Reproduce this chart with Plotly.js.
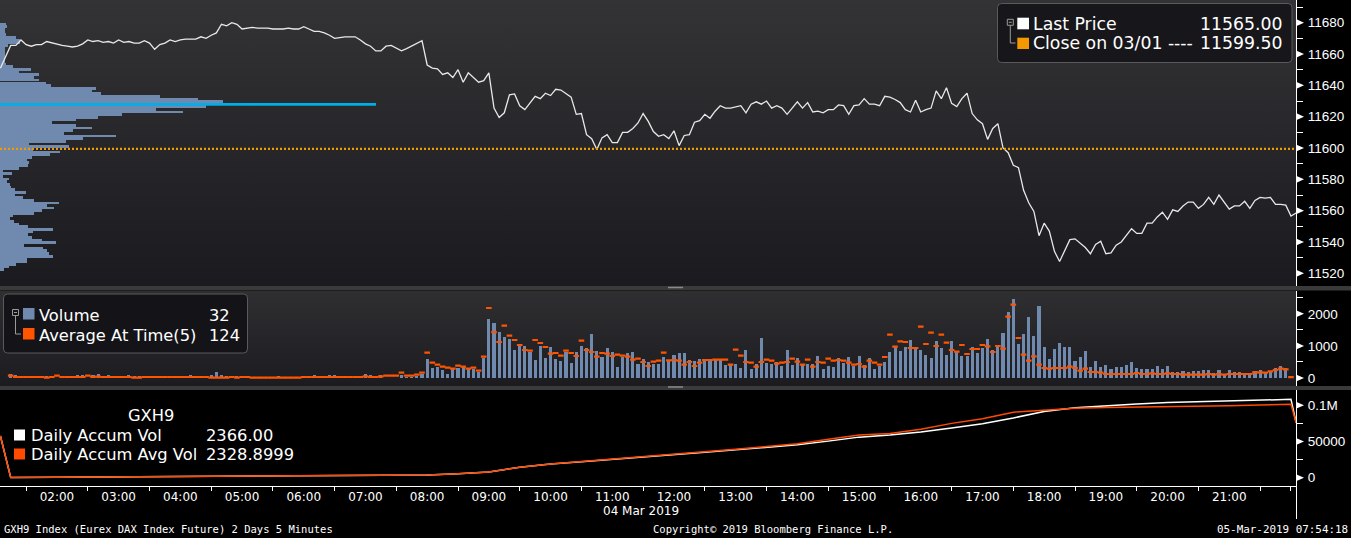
<!DOCTYPE html>
<html>
<head>
<meta charset="utf-8">
<script src="https://cdn.plot.ly/plotly-3.0.1.min.js"></script>
<style>
html,body{margin:0;padding:0;background:#000;overflow:hidden;}
#chart{width:1351px;height:538px;background:
linear-gradient(#333336,#1b1b1f) 0 0/1296px 286px no-repeat,
linear-gradient(#3a3a3a,#3a3a3a) 0 286px/1351px 4.5px no-repeat,
linear-gradient(#2f2f32,#1c1c20) 0 290.5px/1296px 95px no-repeat,
linear-gradient(#3a3a3a,#3a3a3a) 0 385.5px/1351px 4px no-repeat,
#000;}
</style>
</head>
<body>
<div id="chart"></div>
<script>
// ---------------- DATA ----------------
const hourLabels = ['02:00','03:00','04:00','05:00','06:00','07:00','08:00','09:00','10:00','11:00',
  '12:00','13:00','14:00','15:00','16:00','17:00','18:00','19:00','20:00','21:00'];
const halfHourTicks = ['01:30','02:30','03:30','04:30','05:30','06:30','07:30','08:30','09:30','10:30',
  '11:30','12:30','13:30','14:30','15:30','16:30','17:30','18:30','19:30','20:30','21:30','22:00'];
const axisStart = '01:04.6', axisEnd = '22:04.9';
const firstBarTime = '01:15';
const barMinutes = 5;

const priceOpenTime = '01:05';
const priceOpen = 11651;
const prices = [
 11665.5,11665.5,11669,11666,11665,11666,11666,11668,11667,11666,
 11665.5,11665,11664.5,11665,11666.5,11669,11668,11668.5,11667.5,11668,
 11667,11669,11667.5,11668,11667,11667,11668.5,11667,11663,11666,
 11667,11669,11668,11669,11669.5,11669.5,11669.5,11671,11670,11672,
 11673.5,11679,11678,11680,11679,11676,11676.5,11677,11676.5,11676.5,
 11676.5,11676,11676,11676,11676.5,11676,11676,11677.5,11676,11674.5,
 11674.5,11673.5,11672,11670,11670.5,11671,11671,11671,11669,11666.5,
 11665,11662,11662,11665,11665.5,11664,11662,11663.5,11665,11666.5,
 11668.5,11653,11651,11650.5,11647,11648,11645,11650,11642,11648,
 11645,11642,11643,11648,11625.5,11619.5,11622.5,11634,11634.5,11627,
 11624.5,11629,11633,11631.5,11635,11633.5,11637.5,11637,11635,11632.5,
 11621.5,11622,11608.5,11606,11599,11606.5,11608.5,11603.5,11603.5,11610,
 11610,11612.5,11616,11622,11617,11610.5,11607.5,11608.5,11606,11611,
 11601.5,11608,11608.5,11616.5,11617.5,11621.5,11619,11623.5,11627,11625.5,
 11625.5,11626.5,11627,11622.5,11628,11629.5,11628,11630,11625.5,11627,
 11625.5,11621.5,11625.5,11629.5,11625.5,11629,11623,11623.5,11622.5,11624.5,
 11624.5,11627.5,11627,11621.5,11627,11627.5,11631.5,11628,11628,11627,
 11633,11632.5,11631,11629,11624.5,11623,11630.5,11623,11624.5,11625.5,
 11636.5,11631.5,11638.5,11628.5,11626.5,11631.5,11635,11622,11618,11615.5,
 11605.5,11612.5,11615.5,11600,11597,11589,11587.5,11573,11565,11559.5,
 11544,11552,11547,11534,11527.5,11535,11541.5,11542,11539,11536.5,
 11532.5,11538.5,11540.5,11532.5,11533,11538,11540,11544.5,11548.5,11545.5,
 11545.5,11552,11552,11556,11559,11554.5,11560.5,11559.5,11563,11565.5,
 11565.5,11561.5,11564,11568.5,11564,11570,11565.5,11561,11563,11563,
 11566,11561.5,11566.5,11568.5,11568,11568.5,11564,11564,11563.5,11556.5,
 11558.5];

const volume = [
 125,93,10,10,10,10,10,62,10,10,
 10,10,10,93,93,15,93,125,10,93,
 10,10,10,93,62,62,10,10,10,10,
 10,10,10,10,10,93,10,10,10,93,
 187,93,62,10,62,62,62,10,10,10,
 10,10,62,10,10,10,10,10,10,93,
 10,10,93,93,10,10,10,10,10,125,
 93,10,93,10,10,10,83,20,20,73,
 125,592,311,343,249,125,280,311,343,280,
 280,197,623,1837,1713,1432,1277,1214,872,1059,
 996,810,561,996,623,965,592,529,810,467,
 810,996,934,1370,841,654,934,810,343,654,
 779,810,436,592,498,436,436,654,529,716,
 779,779,561,529,592,592,592,592,592,405,
 436,436,311,872,280,436,1246,467,436,498,
 374,872,405,623,436,436,436,685,280,374,
 343,623,467,654,374,685,405,623,280,374,
 498,810,986,851,955,1183,903,872,716,623,
 1152,934,716,1152,810,685,685,965,779,934,
 1214,872,996,1401,2055,2460,1059,1370,1900,1308,
 2242,965,592,903,1090,965,965,529,654,841,
 343,529,343,405,280,343,343,405,498,311,
 280,280,280,374,280,374,197,187,218,187,
 218,218,249,249,156,249,125,249,187,187,
 125,156,218,249,187,228,311,374,311,32];

const avgAtTime = [
 73,31,31,31,31,31,31,10,31,73,
 31,31,31,31,31,73,31,42,31,31,
 31,31,31,31,10,10,31,31,31,31,
 31,31,31,31,31,31,31,31,31,10,
 10,10,10,31,10,31,31,10,10,10,
 10,10,10,10,10,10,10,31,31,31,
 31,31,31,31,31,31,31,31,31,52,
 31,31,52,73,73,73,166,73,73,104,
 166,789,477,415,353,322,291,384,353,291,
 322,228,664,2180,1432,1121,1630,1318,1183,1028,
 872,851,1183,1090,965,758,779,695,851,779,
 685,1163,872,810,664,779,758,685,727,695,
 664,571,602,498,374,509,540,789,550,561,
 540,415,498,374,477,561,561,571,571,571,
 415,882,695,498,477,353,498,571,540,446,
 477,498,602,509,415,571,353,498,477,602,
 540,561,540,477,415,436,353,540,477,415,
 654,1349,976,1142,1121,934,934,1599,1059,1412,
 996,1349,1100,872,820,1028,747,903,903,1028,
 986,810,996,913,1910,2284,1246,727,540,675,
 415,311,291,311,311,311,353,311,228,291,
 187,187,166,125,125,125,125,125,125,156,
 125,125,145,125,125,145,125,125,104,104,
 104,104,104,125,104,125,104,125,125,125,
 125,125,176,176,166,208,249,291,270,30];

// volume at price profile
const profileLevels = [
 11679.1,11677.4,11675.7,11674.0,11672.3,11670.6,11668.9,11667.2,11665.5,11663.8,
 11662.1,11660.4,11658.7,11657.0,11655.3,11653.6,11651.9,11650.2,11648.5,11646.8,
 11645.1,11643.4,11641.6,11639.9,11638.2,11636.5,11634.8,11633.1,11631.4,11629.7,
 11628.0,11626.3,11624.6,11622.9,11621.2,11619.5,11617.8,11616.1,11614.4,11612.7,
 11611.0,11609.3,11607.6,11605.9,11604.2,11602.5,11600.8,11599.1,11597.4,11595.7,
 11594.0,11592.3,11590.6,11588.9,11587.1,11585.4,11583.7,11582.0,11580.3,11578.6,
 11576.9,11575.2,11573.5,11571.8,11570.1,11568.4,11566.7,11565.0,11563.3,11561.6,
 11559.9,11558.2,11556.5,11554.8,11553.1,11551.4,11549.7,11548.0,11546.3,11544.6,
 11542.9,11541.2,11539.5,11537.8,11536.1,11534.4,11532.6,11530.9,11529.2,11527.5,
 11525.8,11524.1,11522.4];
const profileVolume = [
 150,175,125,125,150,400,500,500,200,125,
 125,125,125,125,125,150,325,775,475,975,
 850,975,1150,1275,2400,2300,2525,4000,4950,5575,
 5875,5150,3900,4575,3050,2450,1900,1300,1900,2300,
 1825,1600,2900,2075,1650,725,1725,825,1500,1250,
 800,675,725,700,475,75,300,75,225,175,
 250,275,375,650,375,575,850,1475,1175,1350,
 1050,850,325,250,350,475,700,1325,825,700,
 800,1050,1400,600,1075,1175,1225,1325,675,675,
 400,225,100];
const pocPrice = 11627.8;
const prevClose = 11599.5;

const accumTimes = ['01:05','01:15','02:00','03:00','04:00','05:00','06:00','07:00','07:30','08:00',
 '08:30','09:00','09:30','10:00','10:30','11:00','11:30','12:00','12:30','13:00',
 '13:30','14:00','14:30','15:00','15:30','16:00','16:30','17:00','17:30','18:00',
 '18:30','19:00','19:30','20:00','20:30','21:00','21:30','22:00','22:05'];
const accumVol = [57600,300,700,1100,1500,1900,2300,2800,3200,3800,
 5500,8000,14500,19000,22000,25000,28500,31500,35000,38500,
 42000,45500,50500,56000,58800,63000,68500,74500,82500,91500,
 96500,99500,101800,103700,105000,106200,107600,108200,76000];
const accumAvgVol = [57600,300,700,1100,1500,1900,2300,2800,3200,3800,
 5500,8000,14500,19000,22300,25500,29000,32000,35500,39200,
 43000,47000,53000,59000,61000,67000,75000,81500,90500,93300,
 96000,96800,97300,97800,98500,99500,100500,101400,76000];

const priceTicks = [11520,11540,11560,11580,11600,11620,11640,11660,11680];
const priceMinorTicks = [11510,11530,11550,11570,11590,11610,11630,11650,11670,11690];
const volTicks = [0,1000,2000];
const volMinorTicks = [500,1500,2500];
const accumTicks = [0,50000,100000];
const accumTickText = ['0','50000','0.1M'];
const accumMinorTicks = [25000,75000];

const legendTop = [['Last Price','11565.00'],['Close on 03/01 ----','11599.50']];
const legendVol = [['Volume','32'],['Average At Time(5)','124']];
const legendAccumTitle = 'GXH9';
const legendAccum = [['Daily Accum Vol','2366.00'],['Daily Accum Avg Vol','2328.8999']];
const dateLabel = '04 Mar 2019';
const footerLeft = 'GXH9 Index (Eurex DAX Index Future) 2 Days 5 Minutes';
const footerMid = 'Copyright\u00a9 2019 Bloomberg Finance L.P.';
const footerRight = '05-Mar-2019 07:54:18';

// ---------------- BUILD ----------------
const W = 1351, H = 538, AX = 1296;
const fx = x => x / W, fy = y => 1 - y / H;
const toMin = s => { const p = s.split(':'); return (+p[0]) * 60 + (+p[1]); };

const barTimes = volume.map((_, i) => toMin(firstBarTime) + i * barMinutes);
const priceTimes = [toMin(priceOpenTime)].concat(prices.map((_, i) => toMin(firstBarTime) + i * barMinutes));
const priceVals = [priceOpen].concat(prices);
const xRange = [toMin(axisStart), toMin(axisEnd)];

const C_BAR = '#7089ae', C_AVG = '#ff5400', C_CLOSE = '#f39800', C_POC = '#00aee8';

const traces = [
  {type:'bar', orientation:'h', x:profileVolume, y:profileLevels, width:1.705,
   xaxis:'x2', yaxis:'y', marker:{color:C_BAR, line:{width:0}}, hoverinfo:'skip'},
  {type:'scatter', mode:'lines', x:priceTimes, y:priceVals, xaxis:'x3', yaxis:'y',
   line:{color:'#e8e8e8', width:1.3}, hoverinfo:'skip'},
  {type:'bar', x:barTimes, y:volume, width:3, xaxis:'x', yaxis:'y2',
   marker:{color:C_BAR, line:{width:0}}, hoverinfo:'skip'},
  {type:'scatter', mode:'markers', x:barTimes, y:avgAtTime, xaxis:'x', yaxis:'y2',
   marker:{symbol:'line-ew', size:4, line:{width:2.2, color:C_AVG}, color:C_AVG}, hoverinfo:'skip'},
  {type:'scatter', mode:'lines', x:accumTimes.map(toMin), y:accumVol, xaxis:'x', yaxis:'y3',
   line:{color:'#ffffff', width:1.5}, hoverinfo:'skip'},
  {type:'scatter', mode:'lines', x:accumTimes.map(toMin), y:accumAvgVol, xaxis:'x', yaxis:'y3',
   line:{color:'#ff4a00', width:1.5}, hoverinfo:'skip'}
];

const shapes = [];
const ln = (x0,y0,x1,y1,color,w,dash) => shapes.push({type:'line', xref:'paper', yref:'paper',
  x0:fx(x0), y0:fy(y0), x1:fx(x1), y1:fy(y1), line:{color:color, width:w, dash:dash||'solid'}});
const rect = (x0,y0,x1,y1,fill,lineColor) => shapes.push({type:'rect', xref:'paper', yref:'paper',
  x0:fx(x0), y0:fy(y0), x1:fx(x1), y1:fy(y1), fillcolor:fill, line:{color:lineColor||fill, width:lineColor?1:0}});
function rrect(x0,y0,x1,y1,r,fill,lineColor){
  const X = fx, Y = fy;
  const path = `M ${X(x0+r)},${Y(y0)} L ${X(x1-r)},${Y(y0)} Q ${X(x1)},${Y(y0)} ${X(x1)},${Y(y0+r)} ` +
    `L ${X(x1)},${Y(y1-r)} Q ${X(x1)},${Y(y1)} ${X(x1-r)},${Y(y1)} L ${X(x0+r)},${Y(y1)} ` +
    `Q ${X(x0)},${Y(y1)} ${X(x0)},${Y(y1-r)} L ${X(x0)},${Y(y0+r)} Q ${X(x0)},${Y(y0)} ${X(x0+r)},${Y(y0)} Z`;
  shapes.push({type:'path', xref:'paper', yref:'paper', path:path, fillcolor:fill, line:{color:lineColor, width:1}});
}
const tri = (yref, v, d) => shapes.push({type:'path', xref:'paper', yref:yref,
  path:`M ${fx(AX)},${v+d} L ${fx(AX+8)},${v} L ${fx(AX)},${v-d} Z`, fillcolor:'#ffffff', line:{width:0}});

// reference lines in the price panel
shapes.push({type:'line', xref:'paper', yref:'y', x0:0, x1:fx(AX), y0:prevClose, y1:prevClose,
  line:{color:C_CLOSE, width:2.2, dash:'2px,2px'}});
shapes.push({type:'line', xref:'paper', yref:'y', x0:0, x1:fx(376), y0:pocPrice, y1:pocPrice,
  line:{color:C_POC, width:2.8}});

// axis tick triangles
priceTicks.forEach(v => tri('y', v, 2.3));
volTicks.forEach(v => tri('y2', v, 110));
accumTicks.forEach(v => tri('y3', v, 4900));

// separator handles and axis extension
ln(668,287.5,683,287.5,'#8a8a8a',1.5);
ln(668,387,683,387,'#8a8a8a',1.5);
ln(AX+0.5,486,AX+0.5,519,'#ffffff',1);

// legend boxes
rrect(997.5,3.5,1292,62.5,4,'#17171b','#5a5a5a');
rrect(3.5,294,247.5,353,4,'#141418','#5a5a5a');

// tree icons
const icon = (x,y) => { rect(x,y,x+6,y+6,'rgba(0,0,0,0)','#9a9a9a'); ln(x+1.5,y+3,x+4.5,y+3,'#9a9a9a',1); };
icon(1007.3,19.3); ln(1010.3,25.3,1010.3,43,'#9a9a9a',1); ln(1010.3,43,1015.5,43,'#9a9a9a',1);
icon(12.5,309.5);  ln(15.5,315.5,15.5,334,'#9a9a9a',1); ln(15.5,334,21,334,'#9a9a9a',1);

// legend squares
rect(1017.3,17.7,1029,29.3,'#ffffff');
rect(1017.3,37.7,1029,49,C_CLOSE);
rect(23,308,34.5,319.5,C_BAR);
rect(23,328,34.5,339.5,C_AVG);
rect(14,429.5,25,440.5,'#ffffff');
rect(14,448.5,25,459.5,'#ff4a00');

const annotations = [];
const txt = (x,y,text,anchor,size,family,color) => annotations.push({xref:'paper', yref:'paper',
  x:fx(x), y:fy(y), text:text, showarrow:false, xanchor:anchor, yanchor:'middle',
  font:{family:family||'DejaVu Sans, sans-serif', size:size, color:color||'#ffffff'}, borderpad:0});

txt(1032,24,legendTop[0][0],'left',17.3);
txt(1283,24,legendTop[0][1],'right',17.3);
txt(1032,43.5,legendTop[1][0],'left',17.3);
txt(1283,43.5,legendTop[1][1],'right',17.3);

txt(38,315,legendVol[0][0],'left',16.3);
txt(208,315,legendVol[0][1],'left',16.3);
txt(38,335,legendVol[1][0],'left',16.3);
txt(208,335,legendVol[1][1],'left',16.3);

txt(151,415,legendAccumTitle,'center',16.3);
txt(30,435,legendAccum[0][0],'left',16.3);
txt(205,435,legendAccum[0][1],'left',16.3);
txt(30,454,legendAccum[1][0],'left',16.3);
txt(205,454,legendAccum[1][1],'left',16.3);

txt(641,511,dateLabel,'center',12);
const MONO = 'DejaVu Sans Mono, monospace';
txt(3,529,footerLeft,'left',10.5,MONO);
txt(773,529,footerMid,'center',10.5,MONO);
txt(1349,529,footerRight,'right',10.9,MONO);

const tickFontR = {family:'Liberation Sans, Arial, sans-serif', size:13.5, color:'#ffffff'};
const yCommon = {side:'right', showline:true, linecolor:'#ffffff', linewidth:1, showgrid:false, zeroline:false,
  ticks:'outside', ticklen:8, tickcolor:'rgba(0,0,0,0)', tickfont:tickFontR, fixedrange:true};

const layout = {
  width:W, height:H, margin:{l:0,r:0,t:0,b:0,pad:0},
  paper_bgcolor:'rgba(0,0,0,0)', plot_bgcolor:'rgba(0,0,0,0)',
  showlegend:false, bargap:0, hovermode:false,
  font:{family:'DejaVu Sans, sans-serif', color:'#ffffff'},
  xaxis:{domain:[0,fx(AX)], range:xRange, anchor:'y3', showgrid:false, zeroline:false,
    showline:true, linecolor:'#ffffff', linewidth:1, tickmode:'array',
    tickvals:hourLabels.map(toMin), ticktext:hourLabels, ticks:'',
    tickfont:{family:'DejaVu Sans, sans-serif', size:12, color:'#ffffff'},
    minor:{tickmode:'array', tickvals:halfHourTicks.map(toMin), ticks:'outside', ticklen:4,
      tickcolor:'#ffffff', tickwidth:1, showgrid:false}, fixedrange:true},
  xaxis2:{domain:[0,fx(AX)], range:[0,32400], anchor:'y', visible:false, fixedrange:true},
  xaxis3:{domain:[0,fx(AX)], range:xRange, anchor:'y', overlaying:'x2', visible:false, fixedrange:true},
  yaxis:Object.assign({}, yCommon, {domain:[fy(286),1], range:[11511.9,11694.5], anchor:'x2',
    tickmode:'array', tickvals:priceTicks, ticktext:priceTicks.map(String),
    minor:{tickmode:'array', tickvals:priceMinorTicks, ticks:'outside', ticklen:6, tickcolor:'#ffffff', showgrid:false}}),
  yaxis2:Object.assign({}, yCommon, {domain:[fy(385.5),fy(290.5)], range:[-234,2726], anchor:'x',
    tickmode:'array', tickvals:volTicks, ticktext:volTicks.map(String),
    minor:{tickmode:'array', tickvals:volMinorTicks, ticks:'outside', ticklen:6, tickcolor:'#ffffff', showgrid:false}}),
  yaxis3:Object.assign({}, yCommon, {domain:[fy(486),fy(389.5)], range:[-11500,121800], anchor:'x',
    tickmode:'array', tickvals:accumTicks, ticktext:accumTickText,
    minor:{tickmode:'array', tickvals:accumMinorTicks, ticks:'outside', ticklen:6, tickcolor:'#ffffff', showgrid:false}}),
  shapes:shapes, annotations:annotations
};

Plotly.newPlot('chart', traces, layout, {displayModeBar:false, staticPlot:true});
</script>
</body>
</html>
